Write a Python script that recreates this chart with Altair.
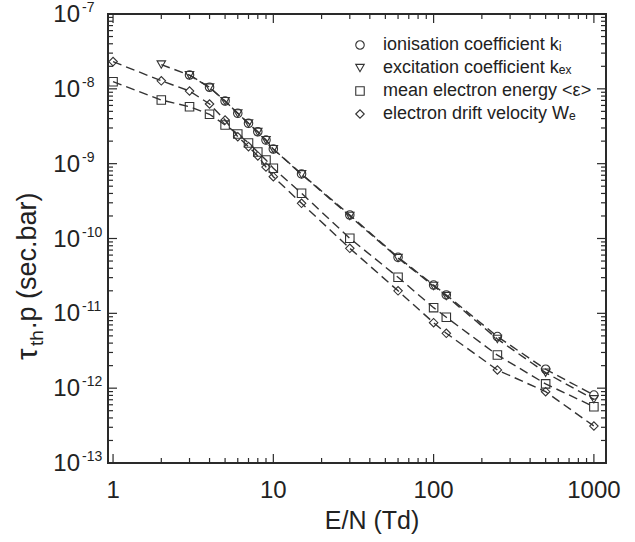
import altair as alt
import pandas as pd

# ---------------- data ----------------
series_names = [
    "ionisation coefficient kᵢ",
    "excitation coefficient kₑₓ",
    "mean electron energy <ε>",
    "electron drift velocity Wₑ",
]
shapes = ["circle", "triangle-down", "square", "diamond"]

x_ion = [3, 4, 5, 6, 7, 8, 9, 10, 15, 30, 60, 100, 120, 250, 500, 1000]
y_ion = [1.53e-8, 1.05e-8, 6.88e-9, 4.71e-9, 3.46e-9, 2.67e-9, 2.07e-9, 1.57e-9,
         7.28e-10, 2.06e-10, 5.61e-11, 2.39e-11, 1.76e-11, 4.90e-12, 1.79e-12, 8.10e-13]

x_exc = [2, 3, 4, 5, 6, 7, 8, 9, 10, 15, 30, 60, 100, 120, 250, 500, 1000]
y_exc = [2.11e-8, 1.52e-8, 1.04e-8, 6.85e-9, 4.70e-9, 3.45e-9, 2.66e-9, 2.06e-9, 1.56e-9,
         7.20e-10, 2.00e-10, 5.48e-11, 2.32e-11, 1.70e-11, 4.54e-12, 1.61e-12, 7.10e-13]

x_ene = [1, 2, 3, 4, 5, 6, 7, 8, 9, 10, 15, 30, 60, 100, 120, 250, 500, 1000]
y_ene = [1.245e-8, 7.09e-9, 5.77e-9, 4.57e-9, 3.29e-9, 2.49e-9, 1.89e-9, 1.43e-9, 1.12e-9,
         8.67e-10, 4.02e-10, 1.006e-10, 3.03e-11, 1.19e-11, 8.85e-12, 2.77e-12, 1.14e-12, 5.65e-13]

x_drf = [1, 2, 3, 4, 5, 6, 7, 8, 9, 10, 15, 30, 60, 100, 120, 250, 500, 1000]
y_drf = [2.31e-8, 1.28e-8, 9.35e-9, 6.27e-9, 3.83e-9, 2.29e-9, 1.69e-9, 1.27e-9, 9.02e-10,
         6.70e-10, 2.95e-10, 7.39e-11, 2.00e-11, 7.49e-12, 5.41e-12, 1.75e-12, 8.97e-13, 3.12e-13]

x_domain = [0.93, 1190]
y_domain = [1e-13, 1e-7]

x_label_values = [1, 10, 100, 1000]
y_label_exponents = [-7, -8, -9, -10, -11, -12, -13]

x_major_ticks = [1, 10, 100, 1000]
x_minor_ticks = [m * 10 ** k for k in range(0, 3) for m in range(2, 10)]
y_major_ticks = [10.0 ** e for e in range(-13, -6)]
y_minor_ticks = [m * 10.0 ** k for k in range(-13, -7) for m in range(2, 10)]

# ---------------- build table ----------------
rows = []
for name, xs_, ys_ in zip(series_names, [x_ion, x_exc, x_ene, x_drf], [y_ion, y_exc, y_ene, y_drf]):
    for a, b in zip(xs_, ys_):
        rows.append({"series": name, "x": a, "y": b})
df = pd.DataFrame(rows)

W, H = 498, 449
INK = "#2a2a2a"
TXT = "#222"
FONT = "Liberation Sans"

xs = alt.Scale(type="log", domain=x_domain)
ys = alt.Scale(type="log", domain=y_domain)

lines = alt.Chart(df).mark_line(strokeDash=[9, 5], strokeWidth=1.4, color="#333").encode(
    x=alt.X("x:Q", scale=xs, axis=None),
    y=alt.Y("y:Q", scale=ys, axis=None),
    detail="series:N",
    order="x:Q",
)

points = alt.Chart(df).mark_point(filled=False, strokeWidth=1.1, color="#333", size=72, opacity=1).encode(
    x=alt.X("x:Q", scale=xs, axis=None),
    y=alt.Y("y:Q", scale=ys, axis=None),
    shape=alt.Shape(
        "series:N",
        scale=alt.Scale(domain=series_names, range=shapes),
        sort=series_names,
        legend=alt.Legend(
            title=None, orient="none", legendX=243, legendY=22,
            labelFontSize=18, labelFont=FONT, labelColor=TXT, labelLimit=400,
            symbolSize=72, symbolStrokeColor="#333", symbolStrokeWidth=1.1,
            symbolFillColor="transparent", rowPadding=5, labelOffset=14,
            padding=0,
        ),
    ),
)


def yticks(vals, L, side):
    d = pd.DataFrame({"v": vals})
    if side == "left":
        enc = dict(x=alt.value(0), x2=alt.value(L))
    else:
        enc = dict(x=alt.value(W - L), x2=alt.value(W))
    return alt.Chart(d).mark_rule(color=INK, strokeWidth=1.2).encode(
        y=alt.Y("v:Q", scale=ys, axis=None), **enc)


def xticks(vals, L, side):
    d = pd.DataFrame({"v": vals})
    if side == "bottom":
        enc = dict(y=alt.value(H - L), y2=alt.value(H))
    else:
        enc = dict(y=alt.value(0), y2=alt.value(L))
    return alt.Chart(d).mark_rule(color=INK, strokeWidth=1.2).encode(
        x=alt.X("v:Q", scale=xs, axis=None), **enc)


MAJ, MIN = 9, 5
tick_layers = [
    yticks(y_major_ticks, MAJ, "left"), yticks(y_minor_ticks, MIN, "left"),
    yticks(y_major_ticks, MAJ, "right"), yticks(y_minor_ticks, MIN, "right"),
    xticks(x_major_ticks, MAJ, "bottom"), xticks(x_minor_ticks, MIN, "bottom"),
    xticks(x_major_ticks, MAJ, "top"), xticks(x_minor_ticks, MIN, "top"),
]

# x tick labels
xl = pd.DataFrame({"v": x_label_values, "t": [str(v) for v in x_label_values]})
x_labels = alt.Chart(xl).mark_text(fontSize=24, font=FONT, color=TXT, baseline="middle", align="center").encode(
    x=alt.X("v:Q", scale=xs, axis=None), y=alt.value(H + 28), text="t:N")

# y tick labels (10 with superscript exponent)
yl = pd.DataFrame({"v": [10.0 ** e for e in y_label_exponents], "e": [str(e) for e in y_label_exponents]})
y_labels_base = alt.Chart(yl).mark_text(fontSize=24, font=FONT, color=TXT, baseline="middle", align="right", dy=1).encode(
    y=alt.Y("v:Q", scale=ys, axis=None), x=alt.value(-28), text=alt.value("10"))
y_labels_exp = alt.Chart(yl).mark_text(fontSize=14, font=FONT, color=TXT, baseline="middle", align="left", dy=-6).encode(
    y=alt.Y("v:Q", scale=ys, axis=None), x=alt.value(-26), text="e:N")

# axis titles
one = pd.DataFrame({"k": [0]})
x_title = alt.Chart(one).mark_text(fontSize=25, font=FONT, color=TXT, baseline="middle", align="center").encode(
    x=alt.value(264), y=alt.value(H + 58), text=alt.value("E/N (Td)"))

TX = -80
y_t1 = alt.Chart(one).mark_text(fontSize=29, font=FONT, color=TXT, baseline="middle", align="left", angle=270).encode(
    x=alt.value(TX), y=alt.value(346), text=alt.value("τ"))
y_t2 = alt.Chart(one).mark_text(fontSize=19, font=FONT, color=TXT, baseline="middle", align="left", angle=270).encode(
    x=alt.value(TX + 9), y=alt.value(332), text=alt.value("th"))
y_t3 = alt.Chart(one).mark_text(fontSize=27, font=FONT, color=TXT, baseline="middle", align="left", angle=270).encode(
    x=alt.value(TX), y=alt.value(315), text=alt.value(".p (sec.bar)"))

chart = alt.layer(
    *tick_layers, lines, points, x_labels, y_labels_base, y_labels_exp, x_title, y_t1, y_t2, y_t3
).properties(
    width=W, height=H,
    autosize=alt.AutoSizeParams(type="none"),
    padding={"left": 108, "top": 14, "right": 29, "bottom": 79},
    background="white",
).configure_view(stroke=INK, strokeWidth=2)

chart.save("out.html", embed_options={"renderer": "svg", "actions": False})
